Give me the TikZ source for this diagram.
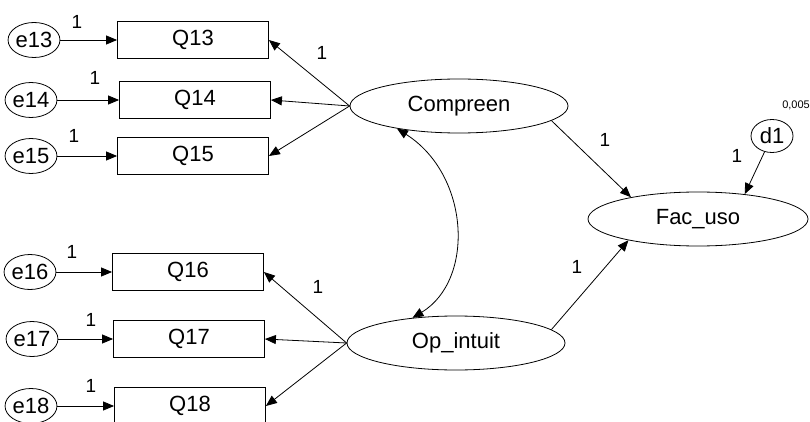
\documentclass[tikz,border=0pt]{standalone}
\usepackage{fontspec}
\setmainfont{Liberation Sans}
\usetikzlibrary{shapes.geometric,arrows.meta}
\begin{document}
\begin{tikzpicture}[x=1pt,y=-1pt,
  obs/.style={draw,rectangle,minimum width=151pt,minimum height=37pt,inner sep=0pt,font=\fontsize{22}{24}\selectfont,line width=0.8pt},
  err/.style={draw,ellipse,minimum width=42pt,minimum height=35pt,inner sep=0pt,font=\fontsize{22}{24}\selectfont,line width=0.8pt},
  lat/.style={draw,ellipse,minimum width=218pt,minimum height=54pt,inner sep=0pt,font=\fontsize{22}{24}\selectfont,line width=0.8pt},
  lbl/.style={font=\fontsize{19}{21}\selectfont,inner sep=0pt},
  arr/.style={-{Triangle[length=11pt,width=9pt]},line width=0.8pt},
  dbl/.style={{Triangle[length=11pt,width=9pt]}-{Triangle[length=11pt,width=9pt]},line width=0.8pt}]
\useasboundingbox (0,0) rectangle (810,422);
% observed
\node[obs] (Q13) at (193,40) {Q13};
\node[obs] (Q14) at (195,100) {Q14};
\node[obs] (Q15) at (193,156) {Q15};
\node[obs] (Q16) at (188,272) {Q16};
\node[obs] (Q17) at (189,339) {Q17};
\node[obs] (Q18) at (190,406) {Q18};
% errors
\node[err] (e13) at (34,40) {e13};
\node[err] (e14) at (31,100) {e14};
\node[err] (e15) at (31,156) {e15};
\node[err] (e16) at (30,272) {e16};
\node[err] (e17) at (32,339) {e17};
\node[err] (e18) at (31,406) {e18};
% latents
\node[lat] (Comp) at (459,106) {Compreen};
\node[lat] (Op) at (456,343) {Op\_intuit};
\node[lat,minimum width=220pt] (Fac) at (698,219) {Fac\_uso};
\node[err,minimum height=33pt] (d1) at (772,136) {d1};
% error arrows
\draw[arr] (e13) -- (Q13);
\draw[arr] (e14) -- (Q14);
\draw[arr] (e15) -- (Q15);
\draw[arr] (e16) -- (Q16);
\draw[arr] (e17) -- (Q17);
\draw[arr] (e18) -- (Q18);
% loadings
\draw[arr] (Comp.west) -- (Q13.east);
\draw[arr] (Comp.west) -- (Q14.east);
\draw[arr] (Comp.west) -- (Q15.east);
\draw[arr] (Op.west) -- (Q16.east);
\draw[arr] (Op.west) -- (Q17.east);
\draw[arr] (Op.west) -- (Q18.east);
% structural
\draw[arr] (Comp.-9) -- (Fac.162);
\draw[arr] (Op.8) -- (Fac.197);
\draw[arr] (d1) -- (Fac.28);
% covariance
\draw[dbl] (Comp.200) .. controls (470,175) and (475,280) .. (Op.150);
% labels
\node[lbl] (l13) at (77,22) {1};
\node[lbl] (l14) at (95,78) {1};
\node[lbl] (l15) at (74,136) {1};
\node[lbl] (l16) at (72,252) {1};
\node[lbl] (l17) at (91,320) {1};
\node[lbl] (l18) at (91,386) {1};
\node[lbl] (lc) at (322,53) {1};
\node[lbl] (lo) at (318,287) {1};
\node[lbl] (lcf) at (605,140) {1};
\node[lbl] (lof) at (577,267) {1};
\node[lbl] (ld) at (737,156) {1};
\node[font=\fontsize{11}{12}\selectfont,inner sep=0pt] (var) at (796,105) {0,005};
\end{tikzpicture}
\end{document}
